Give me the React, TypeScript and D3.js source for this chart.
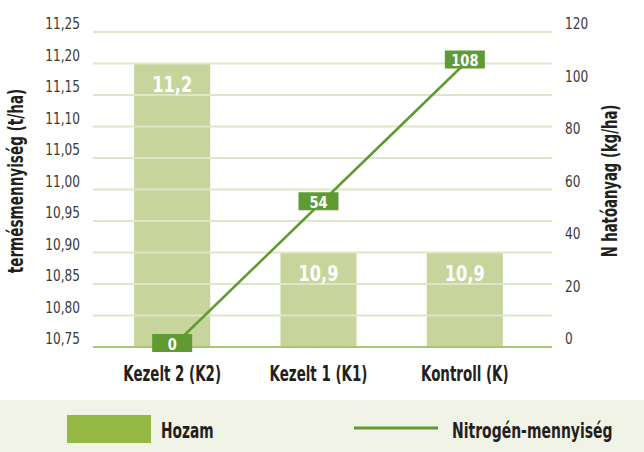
import React, { useEffect, useRef } from 'react';
import * as d3 from 'd3';

const categories = ['Kezelt 2 (K2)', 'Kezelt 1 (K1)', 'Kontroll (K)'];
const yieldValues = [11.2, 10.9, 10.9];
const nitrogenValues = [0, 54, 108];
const leftTicks = [10.75, 10.8, 10.85, 10.9, 10.95, 11.0, 11.05, 11.1, 11.15, 11.2, 11.25];
const rightTicks = [0, 20, 40, 60, 80, 100, 120];
const seriesNames = ['Hozam', 'Nitrogén-mennyiség'];

const FONT = '"DejaVu Sans Condensed", "DejaVu Sans", sans-serif';
const DARK = '#231f20';

const App = () => {
    const ref = useRef<SVGSVGElement>(null);

    useEffect(() => {
        const width = 644;
        const height = 452;
        const top = 32;
        const bottom = 347;
        const gridLeft = 93;
        const gridRight = 552;

        const svg = d3.select(ref.current);
        svg.selectAll('*').remove();

        const x = d3.scaleBand().domain(categories).range([99, 538]).paddingInner(0.48).paddingOuter(0.24);
        const yL = d3.scaleLinear().domain([10.75, 11.25]).range([bottom, top]);
        const yR = d3.scaleLinear().domain([0, 120]).range([bottom, top]);
        const fmt = (v: number) => d3.format('.2f')(v).replace('.', ',');
        const fmt1 = (v: number) => String(v).replace('.', ',');
        const cx = (i: number) => x(categories[i])! + x.bandwidth() / 2;

        // condensed look: squeeze text horizontally
        const squeeze = (px: number, py: number, sx: number, rot = 0) =>
            `translate(${px},${py})${rot ? ` rotate(${rot})` : ''} scale(${sx},1)`;

        // bars
        svg.append('g')
            .selectAll('rect')
            .data(yieldValues)
            .join('rect')
            .attr('x', (d, i) => x(categories[i])!)
            .attr('width', x.bandwidth())
            .attr('y', d => yL(d))
            .attr('height', d => bottom - yL(d))
            .attr('fill', '#c7d59d');

        // gridlines over the bars
        svg.append('g')
            .selectAll('line')
            .data(leftTicks)
            .join('line')
            .attr('x1', gridLeft)
            .attr('x2', gridRight)
            .attr('y1', d => yL(d))
            .attr('y2', d => yL(d))
            .attr('stroke', (d, i) => (i === 0 ? '#a9c772' : '#dde7c7'))
            .attr('stroke-width', 2);

        // bar labels
        svg.append('g')
            .selectAll('text')
            .data(yieldValues)
            .join('text')
            .attr('transform', (d, i) => squeeze(cx(i), yL(d) + 28.5, 0.82))
            .attr('text-anchor', 'middle')
            .attr('fill', 'white')
            .style('font', `bold 22px ${FONT}`)
            .text(d => fmt1(d));

        // left ticks
        svg.append('g')
            .selectAll('text')
            .data(leftTicks)
            .join('text')
            .attr('transform', d => squeeze(80, yL(d) - 3, 0.9))
            .attr('text-anchor', 'end')
            .attr('fill', '#3a3a3a')
            .style('font', `15px ${FONT}`)
            .text(d => fmt(d));

        // right ticks
        svg.append('g')
            .selectAll('text')
            .data(rightTicks)
            .join('text')
            .attr('transform', d => squeeze(565, yR(d) - 3, 0.9))
            .attr('fill', '#3a3a3a')
            .style('font', `15px ${FONT}`)
            .text(d => d);

        // category labels
        svg.append('g')
            .selectAll('text')
            .data(categories)
            .join('text')
            .attr('transform', (d, i) => squeeze(cx(i), 381, 0.71))
            .attr('text-anchor', 'middle')
            .attr('fill', DARK)
            .style('font', `bold 21px ${FONT}`)
            .text(d => d);

        // axis titles
        svg.append('text')
            .attr('transform', squeeze(23, 181, 0.72, -90))
            .attr('text-anchor', 'middle')
            .attr('fill', DARK)
            .style('font', `bold 21px ${FONT}`)
            .text('termésmennyiség (t/ha)');
        svg.append('text')
            .attr('transform', squeeze(617, 181, 0.7, -90))
            .attr('text-anchor', 'middle')
            .attr('fill', DARK)
            .style('font', `bold 21px ${FONT}`)
            .text('N hatóanyag (kg/ha)');

        // nitrogen line
        const pts = nitrogenValues.map((v, i) => [cx(i), yR(v)] as [number, number]);
        svg.append('path')
            .attr('d', d3.line()(pts))
            .attr('fill', 'none')
            .attr('stroke', '#5f9a32')
            .attr('stroke-width', 2.5);

        const lab = svg.append('g')
            .selectAll('g')
            .data(pts)
            .join('g')
            .attr('transform', d => `translate(${d[0]},${d[1] - 4})`);
        lab.append('rect')
            .attr('x', -20)
            .attr('y', -9)
            .attr('width', 40)
            .attr('height', 18)
            .attr('fill', '#5f9a32');
        lab.append('text')
            .attr('transform', squeeze(0, 6.5, 0.88))
            .attr('text-anchor', 'middle')
            .attr('fill', 'white')
            .style('font', `bold 16.5px ${FONT}`)
            .text((d, i) => nitrogenValues[i]);

        // legend
        svg.append('rect')
            .attr('x', 0)
            .attr('y', 400)
            .attr('width', width)
            .attr('height', height - 400)
            .attr('fill', '#f1f3e7');
        svg.append('rect')
            .attr('x', 67)
            .attr('y', 415)
            .attr('width', 84)
            .attr('height', 28)
            .attr('fill', '#95b743');
        svg.append('text')
            .attr('transform', squeeze(161, 438, 0.73))
            .attr('fill', DARK)
            .style('font', `bold 21px ${FONT}`)
            .text(seriesNames[0]);
        svg.append('line')
            .attr('x1', 354)
            .attr('x2', 438)
            .attr('y1', 428)
            .attr('y2', 428)
            .attr('stroke', '#5f9a32')
            .attr('stroke-width', 3);
        svg.append('text')
            .attr('transform', squeeze(452, 438, 0.74))
            .attr('fill', DARK)
            .style('font', `bold 21px ${FONT}`)
            .text(seriesNames[1]);
    }, []);

    return (
        <svg
            ref={ref}
            width={644}
            height={452}
            style={{ position: 'absolute', left: 0, top: 0, background: 'white' }}
        />
    );
};

export default App;
